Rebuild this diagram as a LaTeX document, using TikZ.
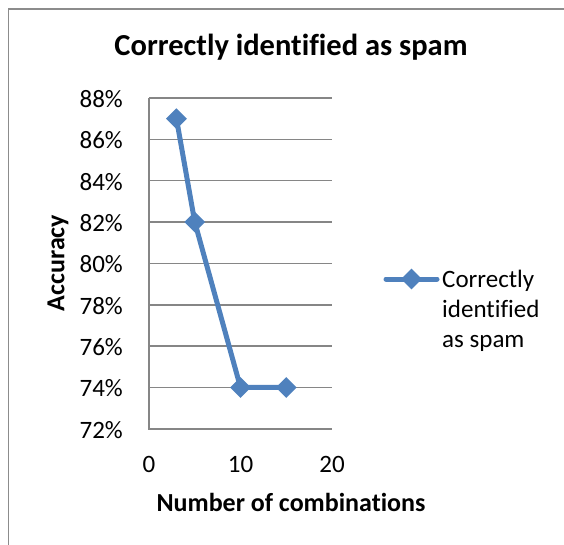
\documentclass[tikz,border=0pt]{standalone}
\usepackage{fontspec}
\setmainfont{Carlito}[Ligatures=NoCommon]
\usetikzlibrary{shapes.geometric}
\definecolor{serieblue}{HTML}{4F81BD}
\definecolor{gridgrey}{HTML}{868686}
\definecolor{framegrey}{HTML}{8C8C8C}
\tikzset{
  grid line/.style={draw=gridgrey, line width=1.5pt},
  tick label/.style={font=\fontsize{25}{30}\selectfont, inner sep=0pt},
  legend text/.style={font=\fontsize{25}{30}\selectfont, inner sep=0pt, anchor=base west},
  axis title/.style={font=\bfseries\fontsize{26}{30}\selectfont, inner sep=0pt},
  series/.style={draw=serieblue, line width=5pt, line join=round},
  marker/.style={diamond, fill=serieblue, draw=none, minimum width=21pt, minimum height=21pt, inner sep=0pt},
}
\begin{document}
\begin{tikzpicture}[x=1pt, y=-1pt]
  \useasboundingbox (0,0) rectangle (564,545);
  % chart frame (top and left edges only)
  \draw[framegrey, line width=1.6pt] (564,9) -- (8.5,9) -- (8.5,545);

  % title
  \node[font=\bfseries\fontsize{30.5}{36}\selectfont, inner sep=0pt] (title) at (291,47) {Correctly identified as spam};

  % horizontal grid lines and y tick labels, 72% .. 88%
  \foreach \p [count=\i from 0] in {72,74,...,88} {
    \pgfmathsetmacro{\yy}{428.8 - \i*41.35}
    \draw[grid line] (149,\yy) -- (332,\yy);
    \node[tick label, anchor=east] (ylab\p) at (123,{\yy+1}) {\p\%};
  }
  % vertical axis
  \draw[grid line] (149,98) -- (149,429.5);

  % x tick labels
  \foreach \v in {0,10,20} {
    \node[tick label] (xlab\v) at ({149+\v*9.15},464) {\v};
  }

  % axis titles
  \node[axis title] (xtitle) at (291,502) {Number of combinations};
  \node[axis title, rotate=90] (ytitle) at (58,263) {Accuracy};

  % data points
  \coordinate (d1) at ({149+3*9.15},{98+(88-87)*20.675});
  \coordinate (d2) at ({149+5*9.15},{98+(88-82)*20.675});
  \coordinate (d3) at ({149+10*9.15},{98+(88-74)*20.675});
  \coordinate (d4) at ({149+15*9.15},{98+(88-74)*20.675});
  \draw[series] (d1) -- (d2) -- (d3) -- (d4);
  \foreach \c in {d1,d2,d3,d4} \node[marker] at (\c) {};

  % legend
  \coordinate (lgA) at (386,279);
  \coordinate (lgB) at (437,279);
  \draw[series, line cap=round] (lgA) -- (lgB);
  \node[marker] (lgmark) at (411.5,279) {};
  \node[legend text] (lg1) at (442,287) {Correctly};
  \node[legend text] (lg2) at (442,317) {identified};
  \node[legend text] (lg3) at (442,347) {as spam};
\end{tikzpicture}
\end{document}
